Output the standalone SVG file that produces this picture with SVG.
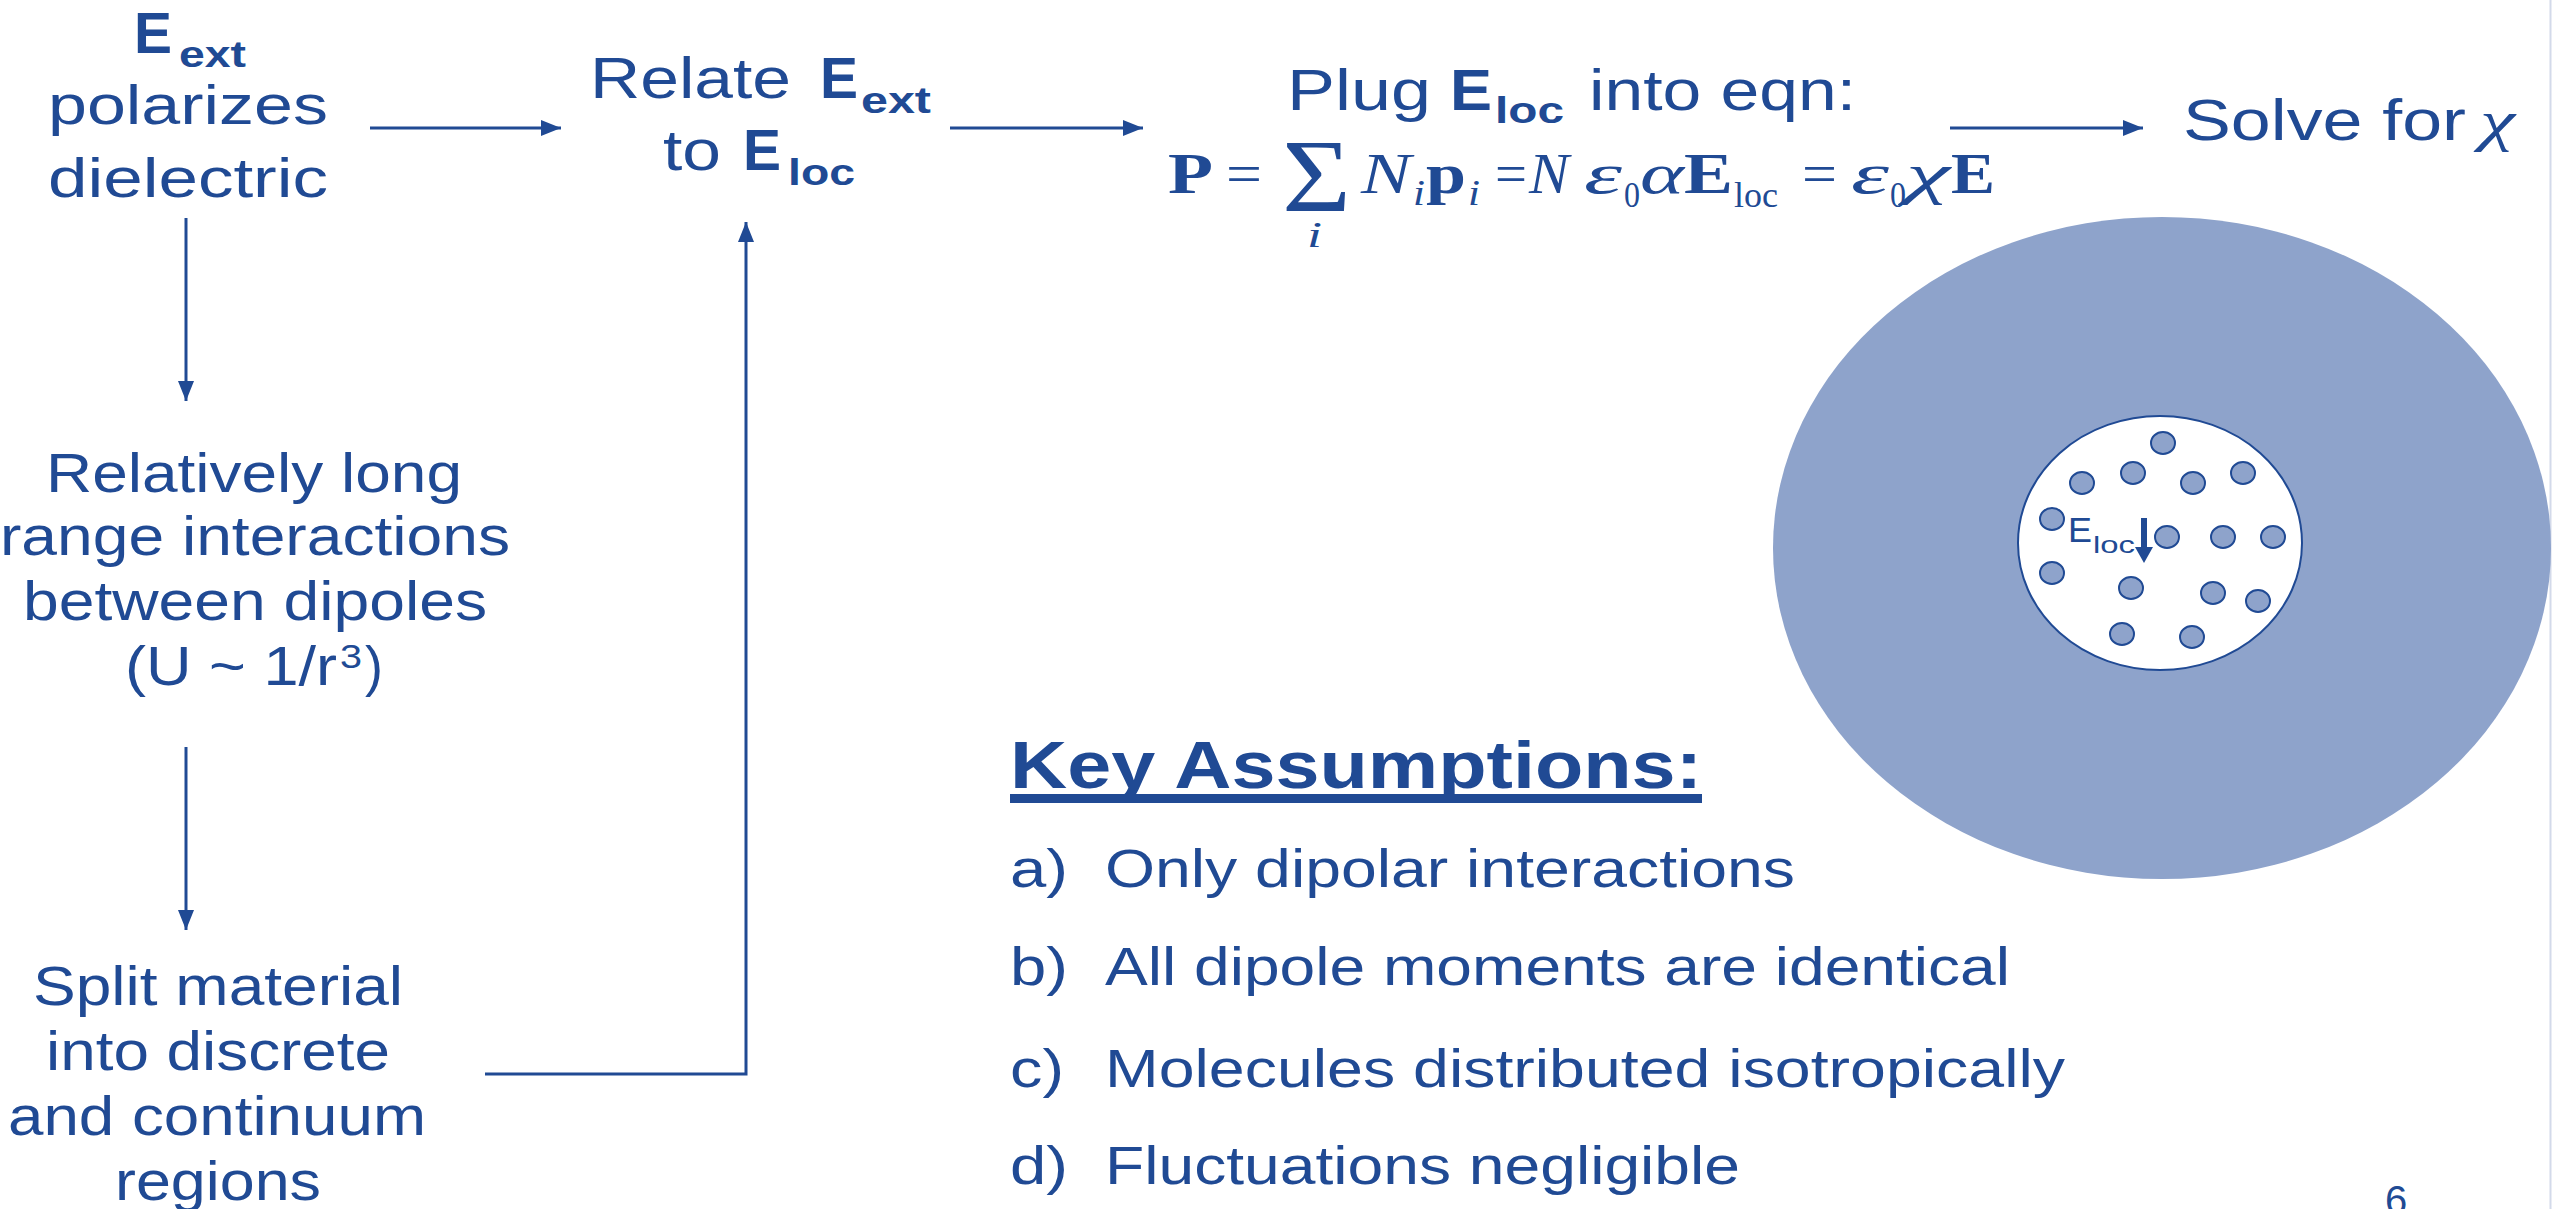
<svg xmlns="http://www.w3.org/2000/svg" width="2552" height="1209" viewBox="0 0 2552 1209">
<defs>
<style>
.t{font-family:"Liberation Sans",Arial,sans-serif;fill:#204A94}
.b{font-weight:bold}
.m{font-family:"Liberation Serif","Times New Roman",serif;fill:#204A94}
.i{font-style:italic}
.c{fill:none;stroke:#204A94;stroke-width:3}
.dot{fill:#8EA3CB;stroke:#204A94;stroke-width:2}
</style>
<marker id="ah" viewBox="0 0 20 16" refX="20" refY="8" markerWidth="20" markerHeight="16" markerUnits="userSpaceOnUse" orient="auto">
<path d="M0,0 L20,8 L0,16 Z" fill="#204A94"/>
</marker>
</defs>
<rect width="2552" height="1209" fill="#ffffff"/>
<line x1="2550.5" y1="0" x2="2550.5" y2="1209" stroke="#D3DAEA" stroke-width="2"/>

<g id="connectors">
<line class="c" x1="370" y1="128" x2="561" y2="128" marker-end="url(#ah)"/>
<line class="c" x1="950" y1="128" x2="1143" y2="128" marker-end="url(#ah)"/>
<line class="c" x1="1950" y1="128" x2="2143" y2="128" marker-end="url(#ah)"/>
<line class="c" x1="186" y1="218" x2="186" y2="401" marker-end="url(#ah)"/>
<line class="c" x1="186" y1="747" x2="186" y2="930" marker-end="url(#ah)"/>
<polyline class="c" points="485,1074 746,1074 746,222" marker-end="url(#ah)"/>
</g>

<g id="node-eext">
<text class="t b" x="134" y="53" font-size="57" textLength="38" lengthAdjust="spacingAndGlyphs">E</text>
<text class="t b" x="179" y="67" font-size="36" textLength="67" lengthAdjust="spacingAndGlyphs">ext</text>
<text class="t" x="48" y="124" font-size="56" textLength="280" lengthAdjust="spacingAndGlyphs">polarizes</text>
<text class="t" x="48" y="197" font-size="56" textLength="280" lengthAdjust="spacingAndGlyphs">dielectric</text>
</g>

<g id="node-relate">
<text class="t" x="590" y="98" font-size="57" textLength="201" lengthAdjust="spacingAndGlyphs">Relate</text>
<text class="t b" x="820" y="98" font-size="57" textLength="38" lengthAdjust="spacingAndGlyphs">E</text>
<text class="t b" x="861" y="113" font-size="36" textLength="70" lengthAdjust="spacingAndGlyphs">ext</text>
<text class="t" x="663" y="170" font-size="57" textLength="58" lengthAdjust="spacingAndGlyphs">to</text>
<text class="t b" x="743" y="170" font-size="57" textLength="38" lengthAdjust="spacingAndGlyphs">E</text>
<text class="t b" x="788" y="185" font-size="36" textLength="67" lengthAdjust="spacingAndGlyphs">loc</text>
</g>

<g id="node-plug">
<text class="t" x="1287" y="110" font-size="58" textLength="144" lengthAdjust="spacingAndGlyphs">Plug</text>
<text class="t b" x="1450" y="110" font-size="58" textLength="42" lengthAdjust="spacingAndGlyphs">E</text>
<text class="t b" x="1495" y="123" font-size="36" textLength="69" lengthAdjust="spacingAndGlyphs">loc</text>
<text class="t" x="1589" y="110" font-size="58" textLength="267" lengthAdjust="spacingAndGlyphs">into eqn:</text>
<g id="equation">
<text class="m b" x="1168" y="193" font-size="57" textLength="45" lengthAdjust="spacingAndGlyphs">P</text>
<text class="m" x="1226" y="193" font-size="57" textLength="36" lengthAdjust="spacingAndGlyphs">=</text>
<text class="m" x="1282" y="211" font-size="104" textLength="69" lengthAdjust="spacingAndGlyphs">Σ</text>
<text class="m i" x="1307" y="247" font-size="36" textLength="15" lengthAdjust="spacingAndGlyphs">i</text>
<text class="m i" x="1361" y="193" font-size="57" textLength="50" lengthAdjust="spacingAndGlyphs">N</text>
<text class="m i" x="1413" y="205" font-size="36" textLength="12" lengthAdjust="spacingAndGlyphs">i</text>
<text class="m b" x="1426" y="193" font-size="57" textLength="40" lengthAdjust="spacingAndGlyphs">p</text>
<text class="m i" x="1468" y="205" font-size="36" textLength="12" lengthAdjust="spacingAndGlyphs">i</text>
<text class="m" x="1495" y="193" font-size="57" textLength="32" lengthAdjust="spacingAndGlyphs">=</text>
<text class="m i" x="1529" y="193" font-size="57" textLength="40" lengthAdjust="spacingAndGlyphs">N</text>
<text class="m i" x="1584" y="193" font-size="57" textLength="38" lengthAdjust="spacingAndGlyphs">ε</text>
<text class="m" x="1624" y="207" font-size="36" textLength="16" lengthAdjust="spacingAndGlyphs">0</text>
<text class="m i" x="1640" y="193" font-size="57" textLength="44" lengthAdjust="spacingAndGlyphs">α</text>
<text class="m b" x="1684" y="193" font-size="57" textLength="49" lengthAdjust="spacingAndGlyphs">E</text>
<text class="m" x="1734" y="207" font-size="36" textLength="44" lengthAdjust="spacingAndGlyphs">loc</text>
<text class="m" x="1802" y="193" font-size="57" textLength="35" lengthAdjust="spacingAndGlyphs">=</text>
<text class="m i" x="1851" y="193" font-size="57" textLength="38" lengthAdjust="spacingAndGlyphs">ε</text>
<text class="m" x="1890" y="207" font-size="36" textLength="16" lengthAdjust="spacingAndGlyphs">0</text>
<text class="m i" x="1906" y="193" font-size="57" textLength="44" lengthAdjust="spacingAndGlyphs">χ</text>
<text class="m b" x="1951" y="193" font-size="57" textLength="44" lengthAdjust="spacingAndGlyphs">E</text>
</g>
</g>

<g id="node-solve">
<text class="t" x="2183" y="140" font-size="58" textLength="283" lengthAdjust="spacingAndGlyphs">Solve for</text>
<text class="m i" x="2480" y="140" font-size="58" textLength="35" lengthAdjust="spacingAndGlyphs">χ</text>
</g>

<g id="node-interactions">
<text class="t" x="46" y="492" font-size="56" textLength="416" lengthAdjust="spacingAndGlyphs">Relatively long</text>
<text class="t" x="0" y="555" font-size="56" textLength="510" lengthAdjust="spacingAndGlyphs">range interactions</text>
<text class="t" x="23" y="620" font-size="56" textLength="464" lengthAdjust="spacingAndGlyphs">between dipoles</text>
<text class="t" x="125" y="685" font-size="56" textLength="212" lengthAdjust="spacingAndGlyphs">(U ~ 1/r</text>
<text class="t" x="340" y="668" font-size="34" textLength="22" lengthAdjust="spacingAndGlyphs">3</text>
<text class="t" x="365" y="685" font-size="56" textLength="18" lengthAdjust="spacingAndGlyphs">)</text>
</g>

<g id="node-split">
<text class="t" x="33" y="1005" font-size="56" textLength="370" lengthAdjust="spacingAndGlyphs">Split material</text>
<text class="t" x="46" y="1070" font-size="56" textLength="344" lengthAdjust="spacingAndGlyphs">into discrete</text>
<text class="t" x="8" y="1135" font-size="56" textLength="418" lengthAdjust="spacingAndGlyphs">and continuum</text>
<text class="t" x="115" y="1200" font-size="56" textLength="206" lengthAdjust="spacingAndGlyphs">regions</text>
</g>

<g id="sphere">
<ellipse cx="2162" cy="548" rx="389" ry="331" fill="#8EA3CB"/>
<ellipse cx="2160" cy="543" rx="142" ry="127" fill="#ffffff" stroke="#204A94" stroke-width="2"/>
<ellipse class="dot" cx="2163" cy="443" rx="12" ry="11"/>
<ellipse class="dot" cx="2133" cy="473" rx="12" ry="11"/>
<ellipse class="dot" cx="2082" cy="483" rx="12" ry="11"/>
<ellipse class="dot" cx="2193" cy="483" rx="12" ry="11"/>
<ellipse class="dot" cx="2243" cy="473" rx="12" ry="11"/>
<ellipse class="dot" cx="2052" cy="519" rx="12" ry="11"/>
<ellipse class="dot" cx="2167" cy="537" rx="12" ry="11"/>
<ellipse class="dot" cx="2223" cy="537" rx="12" ry="11"/>
<ellipse class="dot" cx="2273" cy="537" rx="12" ry="11"/>
<ellipse class="dot" cx="2052" cy="573" rx="12" ry="11"/>
<ellipse class="dot" cx="2131" cy="588" rx="12" ry="11"/>
<ellipse class="dot" cx="2213" cy="593" rx="12" ry="11"/>
<ellipse class="dot" cx="2258" cy="601" rx="12" ry="11"/>
<ellipse class="dot" cx="2122" cy="634" rx="12" ry="11"/>
<ellipse class="dot" cx="2192" cy="637" rx="12" ry="11"/>
<text class="t" x="2068" y="542" font-size="35" textLength="24" lengthAdjust="spacingAndGlyphs">E</text>
<text class="t" x="2093" y="553" font-size="24" textLength="42" lengthAdjust="spacingAndGlyphs">loc</text>
<line x1="2144" y1="518" x2="2144" y2="550" stroke="#204A94" stroke-width="6"/>
<path d="M2135,547 L2153,547 L2144,563 Z" fill="#204A94"/>
</g>

<g id="assumptions">
<text class="t b" x="1010" y="788" font-size="67" textLength="692" lengthAdjust="spacingAndGlyphs">Key Assumptions:</text>
<rect x="1010" y="794" width="692" height="9" fill="#204A94"/>
<text class="t" x="1010" y="887" font-size="54" textLength="58" lengthAdjust="spacingAndGlyphs">a)</text>
<text class="t" x="1105" y="887" font-size="54" textLength="690" lengthAdjust="spacingAndGlyphs">Only dipolar interactions</text>
<text class="t" x="1010" y="985" font-size="54" textLength="58" lengthAdjust="spacingAndGlyphs">b)</text>
<text class="t" x="1105" y="985" font-size="54" textLength="905" lengthAdjust="spacingAndGlyphs">All dipole moments are identical</text>
<text class="t" x="1010" y="1087" font-size="54" textLength="54" lengthAdjust="spacingAndGlyphs">c)</text>
<text class="t" x="1105" y="1087" font-size="54" textLength="960" lengthAdjust="spacingAndGlyphs">Molecules distributed isotropically</text>
<text class="t" x="1010" y="1184" font-size="54" textLength="58" lengthAdjust="spacingAndGlyphs">d)</text>
<text class="t" x="1105" y="1184" font-size="54" textLength="635" lengthAdjust="spacingAndGlyphs">Fluctuations negligible</text>
</g>

<text class="t" x="2385" y="1214" font-size="40">6</text>
</svg>
